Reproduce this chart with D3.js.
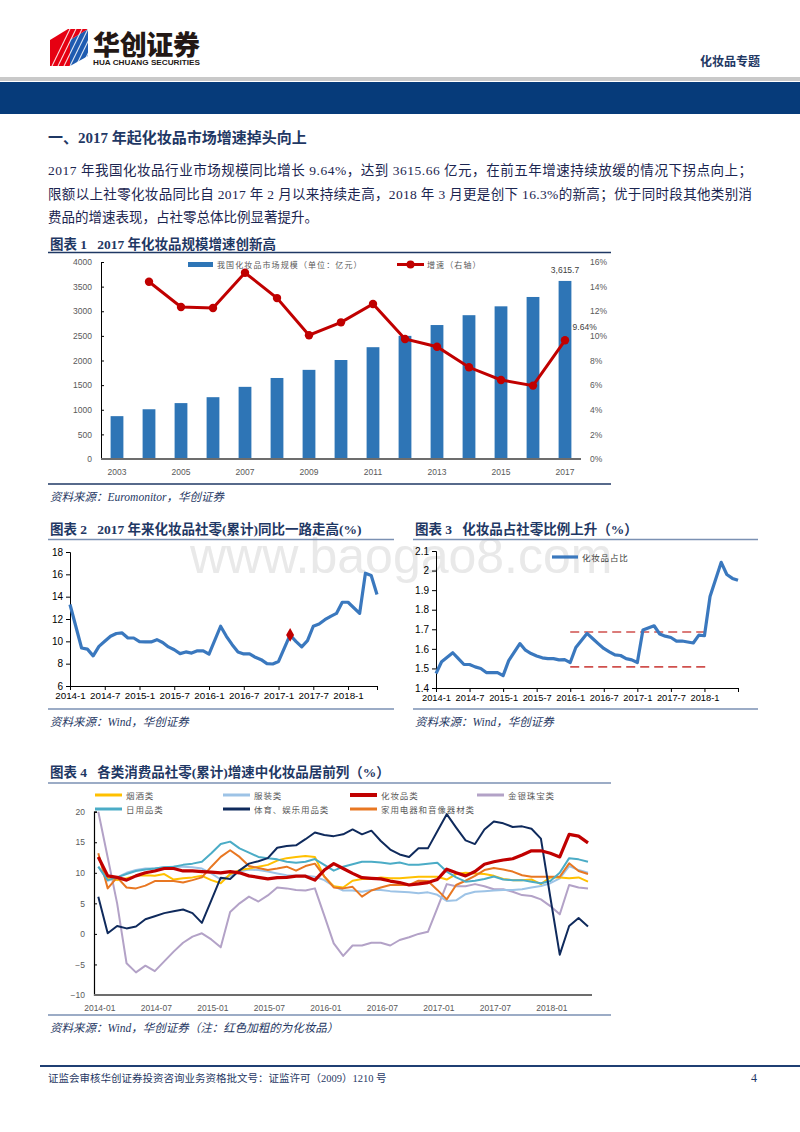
<!DOCTYPE html>
<html>
<head>
<meta charset="utf-8">
<script src="https://cdn.jsdelivr.net/npm/d3@7"></script>
<style>
  body { margin: 0; background: #fff; }
  svg { display: block; }
</style>
</head>
<body>
<script>
// ---------- data ----------
const marketYears = [2003, 2004, 2005, 2006, 2007, 2008, 2009, 2010, 2011, 2012, 2013, 2014, 2015, 2016, 2017];
const marketSize = [870, 1010, 1135, 1255, 1465, 1645, 1810, 2010, 2270, 2500, 2720, 2920, 3100, 3290, 3615.7];
const marketGrowth = [null, 14.4, 12.35, 12.26, 15.13, 13.07, 10.05, 11.1, 12.59, 9.75, 9.12, 7.45, 6.42, 5.96, 9.64];

const retailMonths = ["2014-01","2014-03","2014-04","2014-05","2014-06","2014-07","2014-08","2014-09","2014-10","2014-11","2014-12",
  "2015-01","2015-02","2015-03","2015-04","2015-05","2015-06","2015-07","2015-08","2015-09","2015-10","2015-11","2015-12",
  "2016-01","2016-03","2016-04","2016-05","2016-06","2016-07","2016-08","2016-09","2016-10","2016-11","2016-12",
  "2017-01","2017-02","2017-03","2017-04","2017-05","2017-06","2017-07","2017-08","2017-09","2017-10","2017-11","2017-12",
  "2018-01","2018-03","2018-04","2018-05","2018-06"];
const retailYoy = [13.3, 9.4, 9.3, 8.7, 9.55, 10.0, 10.45, 10.7, 10.75, 10.3, 10.3,
  9.97, 9.95, 9.95, 10.15, 9.9, 9.5, 9.25, 8.9, 9.05, 8.95, 9.15, 9.15,
  8.85, 11.35, 10.45, 9.7, 9.05, 8.87, 8.87, 8.57, 8.36, 8.0, 7.97,
  8.2, 9.4, 10.57, 10.0, 9.5, 10.06, 11.35, 11.55, 11.94, 12.24, 12.5, 13.5,
  13.5, 12.5, 16.1, 15.9, 14.2];
const retailMark = "2017-03";
const monthTicks = ["2014-1", "2014-7", "2015-1", "2015-7", "2016-1", "2016-7", "2017-1", "2017-7", "2018-1"];

const shareMonths = ["2014-01","2014-02","2014-04","2014-05","2014-06","2014-07","2014-08","2014-09","2014-10","2014-11","2014-12",
  "2015-01","2015-02","2015-04","2015-05","2015-06","2015-07","2015-08","2015-09","2015-10","2015-11","2015-12",
  "2016-01","2016-02","2016-04","2016-05","2016-06","2016-07","2016-08","2016-09","2016-10","2016-11","2016-12",
  "2017-01","2017-02","2017-04","2017-05","2017-06","2017-07","2017-08","2017-09","2017-10","2017-11","2017-12",
  "2018-01","2018-02","2018-04","2018-05","2018-06","2018-07"];
const shareValues = [1.474, 1.534, 1.58, 1.55, 1.52, 1.52, 1.508, 1.5, 1.479, 1.479, 1.479,
  1.463, 1.54, 1.627, 1.593, 1.576, 1.564, 1.554, 1.55, 1.55, 1.544, 1.545,
  1.53, 1.607, 1.679, 1.653, 1.627, 1.602, 1.585, 1.569, 1.566, 1.55, 1.544,
  1.53, 1.696, 1.718, 1.676, 1.665, 1.658, 1.64, 1.64, 1.635, 1.63, 1.67,
  1.667, 1.867, 2.042, 1.98, 1.96, 1.95];
const shareRefLevels = [1.686, 1.508];
const shareRefSpan = ["2016-01", "2018-02"];

// 图表4: monthly 2014-01 .. 2018-05
const catTicks = ["2014-01", "2014-07", "2015-01", "2015-07", "2016-01", "2016-07", "2017-01", "2017-07", "2018-01"];
const tobacco = [12.6, 9.1, 8.8, 9.1, 9.5, 9.6, 9.5, 9.8, 8.9, 9.1, 9.25, 9.5, 8.8, 8.3, 9.8, 10.45, 10.7, 11.0, 11.3, 12.0,
  12.4, 12.6, 12.75, 12.6, 9.35, 7.8, 7.6, 8.7, 9.0, 9.0, 9.25, 9.1, 9.1, 9.25, 9.35, 9.35, 9.35, 8.9, 9.8, 10.0,
  9.9, 9.8, 9.5, 9.0, 8.8, 8.8, 8.9, 8.15, 9.25, 9.25, 9.1, 9.25, 8.55];
const clothing = [11.0, 8.7, 9.25, 10.0, 10.45, 10.7, 10.7, 10.9, 11.0, 11.0, 10.9, 10.7, 9.9, 8.9, 9.5, 10.2, 10.55, 10.45, 10.2, 9.9,
  9.6, 9.5, 9.5, 9.35, 8.8, 7.8, 7.1, 7.1, 6.9, 7.2, 7.2, 7.0, 6.9, 6.8, 6.65, 6.8, 6.4, 5.4, 5.5, 6.5,
  6.9, 7.0, 7.1, 7.2, 7.2, 7.3, 7.6, 7.85, 8.3, 9.1, 11.1, 10.45, 10.0];
const cosmetics = [12.6, 9.5, 9.25, 8.8, 9.5, 10.0, 10.3, 10.7, 10.7, 10.3, 10.3, 10.2, 10.1, 10.0, 10.2, 10.0, 9.5, 9.25, 9.0, 9.2,
  9.25, 9.45, 9.45, 8.8, 10.45, 11.5, 10.7, 9.9, 9.2, 9.1, 9.0, 8.65, 8.4, 8.0, 8.2, 8.4, 8.9, 10.6, 10.0, 9.5,
  10.2, 11.4, 11.8, 12.1, 12.3, 12.9, 13.6, 13.6, 13.2, 12.6, 16.3, 16.0, 14.9];
const jewelry = [20.0, 12.5, 5.0, -4.8, -6.3, -5.2, -6.1, -4.5, -2.9, -1.45, -0.45, 0.1, -0.9, -2.2, 3.6, 5.0, 6.1, 5.3, 6.3, 7.6,
  7.45, 7.2, 7.1, 7.45, 3.0, -1.55, -3.6, -1.9, -1.9, -1.45, -1.45, -1.9, -1.0, -0.55, 0.0, 0.35, 4.2, 8.15, 7.8, 7.8,
  8.15, 7.8, 7.3, 7.3, 6.9, 6.35, 6.2, 5.65, 4.55, 3.2, 8.0, 7.6, 7.45];
const daily = [11.0, 8.8, 9.25, 9.8, 10.3, 10.55, 10.7, 10.9, 11.0, 11.3, 11.5, 11.8, 13.2, 14.7, 15.1, 14.0, 13.3, 12.6, 12.4, 12.2,
  11.8, 11.65, 11.8, 12.25, 11.3, 10.35, 11.0, 11.4, 11.8, 11.8, 11.7, 11.5, 11.7, 11.3, 11.3, 11.5, 11.65, 10.2, 9.25, 8.55,
  8.7, 9.0, 9.4, 8.9, 8.8, 8.8, 8.55, 8.3, 8.65, 10.0, 12.4, 12.2, 11.8];
const sports = [6.1, 0.1, 1.3, 0.9, 1.2, 2.4, 2.9, 3.4, 3.7, 4.0, 3.4, 1.8, 5.5, 9.2, 9.0, 10.4, 11.5, 11.9, 12.4, 14.1,
  14.4, 14.5, 15.5, 16.6, 16.2, 16.0, 16.3, 17.1, 16.3, 16.9, 15.2, 13.8, 13.0, 12.6, 14.0, 14.0, 16.8, 19.6, 17.4, 15.3,
  14.7, 17.1, 18.4, 18.1, 17.5, 17.6, 17.2, 15.6, 6.0, -3.4, 1.3, 2.6, 1.2];
const appliances = [13.2, 7.45, 9.25, 7.6, 7.45, 7.9, 8.65, 8.65, 8.65, 8.4, 8.8, 9.25, 11.0, 12.6, 13.7, 12.6, 11.1, 10.8, 10.45, 10.7,
  11.0, 10.35, 11.1, 11.5, 9.4, 7.6, 7.45, 7.7, 6.1, 7.1, 7.6, 8.0, 8.0, 8.0, 8.7, 8.65, 7.2, 5.65, 8.0, 8.7,
  9.5, 10.45, 10.8, 10.55, 10.2, 9.6, 9.35, 9.35, 9.35, 9.35, 11.55, 10.3, 9.8];

const paragraph = [
  "2017 年我国化妆品行业市场规模同比增长 9.64%，达到 3615.66 亿元，在前五年增速持续放缓的情况下拐点向上；",
  "限额以上社零化妆品同比自 2017 年 2 月以来持续走高，2018 年 3 月更是创下 16.3%的新高；优于同时段其他类别消",
  "费品的增速表现，占社零总体比例显著提升。"
];

// ---------- page ----------
const navy = "#1F3864";
const serif = "'Liberation Serif','Noto Sans CJK SC',serif";
const sans = "'Liberation Sans','Noto Sans CJK SC',sans-serif";
const cjk = "'Noto Sans CJK SC',sans-serif";
const monthIndex = s => { const p = s.split("-").map(Number); return (p[0] - 2014) * 12 + p[1] - 1; };

const svg = d3.select("body").append("svg")
  .attr("width", 800).attr("height", 1132)
  .style("font-family", serif);

// header
const logo = svg.append("g");
logo.append("polygon").attr("points", "50,40 70,40 70,66 50,66").attr("fill", "#E60012");
logo.append("polygon").attr("points", "70,40 88,29 88,56 70,66").attr("fill", "#1E5BB0");
logo.append("polygon").attr("points", "50,40 68,29 88,29 70,40").attr("fill", "#E60012");
for (let i = 0; i < 6; i++) {
  logo.append("line")
    .attr("x1", 52 + i * 6).attr("y1", 66).attr("x2", 70 + i * 6).attr("y2", 29)
    .attr("stroke", "#fff").attr("stroke-width", 1.1).attr("opacity", 0.85);
}
svg.append("text").attr("x", 93).attr("y", 55).text("华创证券")
  .attr("font-family", cjk).attr("font-weight", 900).attr("font-size", 27)
  .attr("textLength", 107).attr("fill", "#231815");
svg.append("text").attr("x", 93).attr("y", 65).text("HUA CHUANG SECURITIES")
  .attr("font-family", sans).attr("font-weight", "bold").attr("font-size", 7.5)
  .attr("textLength", 107).attr("lengthAdjust", "spacingAndGlyphs").attr("fill", "#231815");
svg.append("text").attr("x", 760).attr("y", 66).attr("text-anchor", "end").text("化妆品专题")
  .attr("font-family", cjk).attr("font-weight", "bold").attr("font-size", 12).attr("fill", navy);
svg.append("rect").attr("x", 0).attr("y", 77).attr("width", 800).attr("height", 4).attr("fill", "#c9c9c9");
svg.append("rect").attr("x", 0).attr("y", 82).attr("width", 800).attr("height", 32).attr("fill", "#063B7A");

// section title + paragraph
svg.append("text").attr("x", 48).attr("y", 143).text("一、2017 年起化妆品市场增速掉头向上")
  .attr("font-weight", "bold").attr("font-size", 15).attr("fill", navy);
paragraph.forEach((line, i) => {
  const t = svg.append("text").attr("x", 48).attr("y", 175 + i * 23.5).text(line)
    .attr("font-size", 13.5).attr("fill", "#1b2550");
  if (i < 2) t.attr("textLength", 704).attr("lengthAdjust", "spacing");
});

// watermark
svg.append("text").attr("x", 190).attr("y", 573).text("www.baogao8.com")
  .attr("font-family", sans).attr("font-size", 50).attr("fill", "#e9e9e9");

function chartFrame(x1, x2, yTitle, title, yRule, yBottom, source, ruleColor) {
  svg.append("text").attr("x", x1 + 2).attr("y", yTitle).text(title)
    .attr("font-weight", "bold").attr("font-size", 13.5).attr("fill", navy)
    .style("white-space", "pre");
  svg.append("line").attr("x1", x1).attr("x2", x2).attr("y1", yRule).attr("y2", yRule)
    .attr("stroke", ruleColor).attr("stroke-width", 1.6);
  svg.append("line").attr("x1", x1).attr("x2", x2).attr("y1", yBottom).attr("y2", yBottom)
    .attr("stroke", ruleColor).attr("stroke-width", 1.6);
  svg.append("text").attr("x", x1 + 2).attr("y", yBottom + 17).text(source)
    .attr("font-style", "italic").attr("font-size", 11.5).attr("fill", navy);
}

// ---------- 图表1 ----------
chartFrame(48, 611, 249, "图表 1   2017 年化妆品规模增速创新高", 252.5, 484, "资料来源：Euromonitor，华创证券", navy);
{
  const g = svg.append("g").style("font-family", sans);
  const x = d3.scaleBand().domain(marketYears).range([101, 581]).paddingInner(0.6).paddingOuter(0.3);
  const yL = d3.scaleLinear().domain([0, 4000]).range([459, 262]);
  const yR = d3.scaleLinear().domain([0, 16]).range([459, 262]);

  const ax = g.append("g").attr("transform", "translate(101,0)")
    .call(d3.axisLeft(yL).tickValues(d3.range(0, 4001, 500)).tickSize(-3).tickPadding(9).tickFormat(d3.format("d")));
  ax.select(".domain").attr("stroke", "#000");
  ax.selectAll("text").attr("font-size", 8.5).attr("fill", "#595959");
  const ar = g.append("g").attr("transform", "translate(581,0)")
    .call(d3.axisRight(yR).tickValues(d3.range(0, 17, 2)).tickSize(0).tickPadding(9).tickFormat(d => d + "%"));
  ar.select(".domain").remove();
  ar.selectAll("text").attr("font-size", 8.5).attr("fill", "#595959");

  g.selectAll("rect.bar").data(marketYears).join("rect").attr("class", "bar")
    .attr("x", d => x(d)).attr("width", x.bandwidth())
    .attr("y", (d, i) => yL(marketSize[i])).attr("height", (d, i) => 459 - yL(marketSize[i]))
    .attr("fill", "#2E75B6");
  g.append("line").attr("x1", 101).attr("x2", 581).attr("y1", 459).attr("y2", 459)
    .attr("stroke", "#6d6d6d").attr("stroke-width", 2);
  g.selectAll("text.xl").data(marketYears.filter(d => d % 2 === 1)).join("text").attr("class", "xl")
    .attr("x", d => x(d) + x.bandwidth() / 2).attr("y", 475).attr("text-anchor", "middle")
    .attr("font-size", 8.5).attr("fill", "#595959").text(d => d);

  const pts = marketYears.map((d, i) => [x(d) + x.bandwidth() / 2, marketGrowth[i]]).filter(p => p[1] != null);
  g.append("path").datum(pts)
    .attr("d", d3.line().x(p => p[0]).y(p => yR(p[1])))
    .attr("fill", "none").attr("stroke", "#C00000").attr("stroke-width", 3);
  g.selectAll("circle.pt").data(pts).join("circle").attr("class", "pt")
    .attr("cx", p => p[0]).attr("cy", p => yR(p[1])).attr("r", 4.2).attr("fill", "#C00000");

  const last = marketYears.length - 1;
  g.append("text").attr("x", x(marketYears[last]) + x.bandwidth() / 2).attr("y", yL(marketSize[last]) - 8)
    .attr("text-anchor", "middle").attr("font-size", 8.5).attr("fill", "#404040")
    .text(d3.format(",.1f")(marketSize[last]));
  g.append("text").attr("x", x(marketYears[last]) + 14).attr("y", yR(marketGrowth[last]) - 10)
    .attr("font-size", 8.5).attr("fill", "#404040").text(marketGrowth[last].toFixed(2) + "%");

  // legend
  g.append("rect").attr("x", 188).attr("y", 262).attr("width", 25).attr("height", 5).attr("fill", "#2E75B6");
  g.append("text").attr("x", 217).attr("y", 268).text("我国化妆品市场规模（单位：亿元）")
    .attr("font-family", cjk).attr("font-size", 8).attr("letter-spacing", 1.1).attr("fill", "#595959");
  g.append("line").attr("x1", 397).attr("x2", 424).attr("y1", 264.5).attr("y2", 264.5)
    .attr("stroke", "#C00000").attr("stroke-width", 3);
  g.append("circle").attr("cx", 410.5).attr("cy", 264.5).attr("r", 4).attr("fill", "#C00000");
  g.append("text").attr("x", 427).attr("y", 268).text("增速（右轴）")
    .attr("font-family", cjk).attr("font-size", 8).attr("letter-spacing", 1.1).attr("fill", "#595959");
}

// ---------- 图表2 ----------
chartFrame(48, 394, 534, "图表 2   2017 年来化妆品社零(累计)同比一路走高(%)", 539.5, 709, "资料来源：Wind，华创证券", "#7b91b3");
{
  const g = svg.append("g").style("font-family", sans);
  const x = d3.scaleLinear().domain([0, 53]).range([70, 377]);
  const y = d3.scaleLinear().domain([6, 18]).range([686, 552]);
  const ay = g.append("g").attr("transform", "translate(70,0)")
    .call(d3.axisLeft(y).tickValues(d3.range(6, 19, 2)).tickSize(4).tickPadding(3));
  ay.selectAll("text").attr("font-size", 10).attr("fill", "#000");
  const ticks = monthTicks.map(s => (+s.split("-")[0] - 2014) * 12 + (+s.split("-")[1]) - 1);
  const axx = g.append("g").attr("transform", "translate(0,686)")
    .call(d3.axisBottom(x).tickValues(ticks.concat([53])).tickSize(4).tickPadding(2)
      .tickFormat(d => { const i = ticks.indexOf(d); return i >= 0 ? monthTicks[i] : ""; }));
  axx.selectAll("text").attr("font-size", 9.8).attr("fill", "#000");
  const pts = retailMonths.map((m, i) => [monthIndex(m), retailYoy[i]]);
  g.append("path").datum(pts)
    .attr("d", d3.line().x(p => x(p[0])).y(p => y(p[1])))
    .attr("fill", "none").attr("stroke", "#3A78BE").attr("stroke-width", 3.2).attr("stroke-linejoin", "round");
  const mi = retailMonths.indexOf(retailMark);
  g.append("path").attr("d", d3.symbol(d3.symbolDiamond, 55)())
    .attr("transform", `translate(${x(monthIndex(retailMark))},${y(retailYoy[mi])})`)
    .attr("fill", "#C00000");
}

// ---------- 图表3 ----------
chartFrame(413, 758, 534, "图表 3   化妆品占社零比例上升（%）", 539.5, 709, "资料来源：Wind，华创证券", "#7b91b3");
{
  const g = svg.append("g").style("font-family", sans);
  const x = d3.scaleLinear().domain([0, 54]).range([436, 738]);
  const y = d3.scaleLinear().domain([1.4, 2.1]).range([688, 551]);
  const ay = g.append("g").attr("transform", "translate(436,0)")
    .call(d3.axisLeft(y).tickValues(d3.range(14, 22).map(v => v / 10)).tickSize(4).tickPadding(3)
      .tickFormat(d3.format("~g")));
  ay.selectAll("text").attr("font-size", 10).attr("fill", "#000");
  const ticks = monthTicks.map(s => (+s.split("-")[0] - 2014) * 12 + (+s.split("-")[1]) - 1);
  const axx = g.append("g").attr("transform", "translate(0,688)")
    .call(d3.axisBottom(x).tickValues(ticks.concat([54])).tickSize(4).tickPadding(2)
      .tickFormat(d => { const i = ticks.indexOf(d); return i >= 0 ? monthTicks[i] : ""; }));
  axx.selectAll("text").attr("font-size", 9.3).attr("fill", "#000");

  shareRefLevels.forEach(v => {
    g.append("line").attr("x1", x(monthIndex(shareRefSpan[0]))).attr("x2", x(monthIndex(shareRefSpan[1])))
      .attr("y1", y(v)).attr("y2", y(v))
      .attr("stroke", "#D0504D").attr("stroke-width", 1.6).attr("stroke-dasharray", "9,5");
  });
  const pts = shareMonths.map((m, i) => [monthIndex(m), shareValues[i]]);
  g.append("path").datum(pts)
    .attr("d", d3.line().x(p => x(p[0])).y(p => y(p[1])))
    .attr("fill", "none").attr("stroke", "#3A78BE").attr("stroke-width", 3.2).attr("stroke-linejoin", "round");
  g.append("line").attr("x1", 552).attr("x2", 578).attr("y1", 557).attr("y2", 557)
    .attr("stroke", "#3A78BE").attr("stroke-width", 3.2);
  g.append("text").attr("x", 582).attr("y", 560.5).text("化妆品占比")
    .attr("font-family", cjk).attr("font-size", 8.5).attr("letter-spacing", 0.8).attr("fill", "#404040");
}

// ---------- 图表4 ----------
chartFrame(48, 611, 777, "图表 4   各类消费品社零(累计)增速中化妆品居前列（%）", 783, 1015,
  "资料来源：Wind，华创证券（注：红色加粗的为化妆品）", "#7b91b3");
{
  const g = svg.append("g").style("font-family", sans);
  const x = d3.scaleLinear().domain([0, 52]).range([98.3, 588]);
  const y = d3.scaleLinear().domain([-10, 20]).range([995, 811.7]);
  const ay = g.append("g").attr("transform", "translate(94,0)")
    .call(d3.axisLeft(y).tickValues(d3.range(-10, 21, 5)).tickSize(-3).tickPadding(9));
  ay.select(".domain").attr("stroke", "#000").attr("stroke-width", 1.2);
  ay.selectAll("text").attr("font-size", 8.5).attr("fill", "#595959");
  g.append("line").attr("x1", 94).attr("x2", 592).attr("y1", 995).attr("y2", 995)
    .attr("stroke", "#6d6d6d").attr("stroke-width", 2);
  g.selectAll("text.xl").data(catTicks).join("text").attr("class", "xl")
    .attr("x", d => x(monthIndex(d)) + 1.5).attr("y", 1011).attr("text-anchor", "middle")
    .attr("font-size", 8.5).attr("fill", "#595959").text(d => d);

  const series = [
    { name: "金银珠宝类", values: jewelry, color: "#B3A2C7", width: 2 },
    { name: "服装类", values: clothing, color: "#9DC3E6", width: 2 },
    { name: "烟酒类", values: tobacco, color: "#FFC000", width: 2 },
    { name: "家用电器和音像器材类", values: appliances, color: "#E87722", width: 2 },
    { name: "日用品类", values: daily, color: "#4BACC6", width: 2 },
    { name: "体育、娱乐用品类", values: sports, color: "#0F2A5C", width: 2 },
    { name: "化妆品类", values: cosmetics, color: "#C00000", width: 3.2 }
  ];
  const line = d3.line().x((d, i) => x(i)).y(d => y(d));
  g.selectAll("path.s").data(series).join("path").attr("class", "s")
    .attr("d", s => line(s.values)).attr("fill", "none")
    .attr("stroke", s => s.color).attr("stroke-width", s => s.width).attr("stroke-linejoin", "round");

  const legendOrder = [
    ["烟酒类", 95, 795], ["服装类", 223, 795], ["化妆品类", 350, 795], ["金银珠宝类", 477, 795],
    ["日用品类", 95, 809], ["体育、娱乐用品类", 223, 809], ["家用电器和音像器材类", 350, 809]
  ];
  legendOrder.forEach(([name, lx, ly]) => {
    const s = series.find(d => d.name === name);
    g.append("line").attr("x1", lx).attr("x2", lx + 27).attr("y1", ly).attr("y2", ly)
      .attr("stroke", s.color).attr("stroke-width", name === "化妆品类" ? 4 : 3);
    g.append("text").attr("x", lx + 31).attr("y", ly + 3.5).text(name)
      .attr("font-family", cjk).attr("font-size", 8.5).attr("letter-spacing", 0.9).attr("fill", "#595959");
  });
}

// footer
svg.append("line").attr("x1", 40).attr("x2", 800).attr("y1", 1066).attr("y2", 1066)
  .attr("stroke", "#1F3F73").attr("stroke-width", 2);
svg.append("text").attr("x", 48).attr("y", 1082).text("证监会审核华创证券投资咨询业务资格批文号：证监许可（2009）1210 号")
  .attr("font-size", 10.5).attr("fill", navy);
svg.append("text").attr("x", 757).attr("y", 1082).attr("text-anchor", "end").text("4")
  .attr("font-size", 12).attr("fill", navy);
</script>
</body>
</html>
